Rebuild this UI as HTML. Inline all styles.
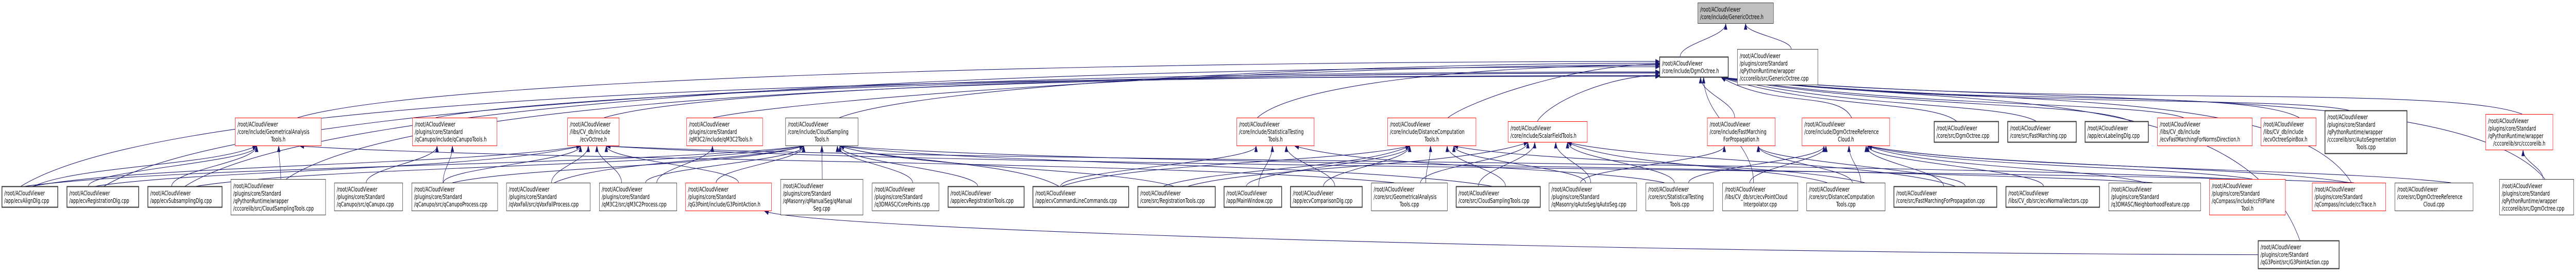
<!DOCTYPE html>
<html><head><meta charset="utf-8">
<style>
html,body{margin:0;padding:0;background:#fff;width:100%;height:100%;overflow:hidden;}
#sv{position:absolute;left:0;top:0;width:100vw;height:100vh;display:block;}
text{font-family:"DejaVu Sans","Liberation Sans",sans-serif;font-size:12px;fill:#000;}
</style></head><body>
<svg id="sv" viewBox="0 0 7291 527" preserveAspectRatio="none" xmlns="http://www.w3.org/2000/svg"><g id="ed"></g><g id="nd"></g></svg>
<script>
var N={
A:[4805,5,5020,46,'g',["/root/ACloudViewer","/core/include/GenericOctree.h"]],
B:[4697,110,4892,150,'t',["/root/ACloudViewer","/core/include/DgmOctree.h"]],
C:[4917,95,5146,165,'',["/root/ACloudViewer","/plugins/core/Standard","/qPythonRuntime/wrapper","/cccorelib/src/GenericOctree.cpp"]],
GAh:[665,228,910,283,'r',["/root/ACloudViewer","/core/include/GeometricalAnalysis","~Tools.h"]],
QCt:[1167,228,1407,283,'r',["/root/ACloudViewer","/plugins/core/Standard","/qCanupo/include/qCanupoTools.h"]],
EOh:[1606,228,1753,283,'r',["/root/ACloudViewer","/libs/CV_db/include","~/ecvOctree.h"]],
M3t:[1943,228,2159,283,'r',["/root/ACloudViewer","/plugins/core/Standard","/qM3C2/include/qM3C2Tools.h"]],
CSh:[2223,228,2429,283,'',["/root/ACloudViewer","/core/include/CloudSampling","~Tools.h"]],
STh:[3500,228,3720,283,'r',["/root/ACloudViewer","/core/include/StatisticalTesting","~Tools.h"]],
DCh:[3927,228,4178,283,'r',["/root/ACloudViewer","/core/include/DistanceComputation","~Tools.h"]],
SFh:[4268,235,4493,276,'r',["/root/ACloudViewer","/core/include/ScalarFieldTools.h"]],
FMh:[4832,228,5025,283,'r',["/root/ACloudViewer","/core/include/FastMarching","~ForPropagation.h"]],
DRh:[5100,228,5349,283,'r',["/root/ACloudViewer","/core/include/DgmOctreeReference","~Cloud.h"]],
DOc:[5474,235,5657,276,'t',["/root/ACloudViewer","/core/src/DgmOctree.cpp"]],
FMc:[5682,235,5877,276,'t',["/root/ACloudViewer","/core/src/FastMarching.cpp"]],
LDc:[5901,235,6081,276,'t',["/root/ACloudViewer","/app/ecvLabelingDlg.cpp"]],
FNh:[6106,228,6375,283,'r',["/root/ACloudViewer","/libs/CV_db/include","/ecvFastMarchingForNormsDirection.h"]],
OSh:[6399,228,6556,283,'r',["/root/ACloudViewer","/libs/CV_db/include","/ecvOctreeSpinBox.h"]],
ASc:[6580,214,6813,298,'t',["/root/ACloudViewer","/plugins/core/Standard","/qPythonRuntime/wrapper","/cccorelib/src/AutoSegmentation","~Tools.cpp"]],
CCh:[7035,221,7226,291,'r',["/root/ACloudViewer","/plugins/core/Standard","/qPythonRuntime/wrapper","~/cccorelib/src/cccorelib.h"]],
AL:[5,361,164,402,'t',["/root/ACloudViewer","/app/ecvAlignDlg.cpp"]],
RD:[189,361,393,402,'t',["/root/ACloudViewer","/app/ecvRegistrationDlg.cpp"]],
SD:[418,361,629,402,'t',["/root/ACloudViewer","/app/ecvSubsamplingDlg.cpp"]],
CSw:[653,347,922,417,'',["/root/ACloudViewer","/plugins/core/Standard","/qPythonRuntime/wrapper","/cccorelib/src/CloudSamplingTools.cpp"]],
QC:[946,354,1140,409,'',["/root/ACloudViewer","/plugins/core/Standard","/qCanupo/src/qCanupo.cpp"]],
QCP:[1165,354,1409,409,'',["/root/ACloudViewer","/plugins/core/Standard","/qCanupo/src/qCanupoProcess.cpp"]],
VF:[1433,354,1671,409,'',["/root/ACloudViewer","/plugins/core/Standard","/qVoxFall/src/qVoxFallProcess.cpp"]],
M3P:[1696,354,1916,409,'',["/root/ACloudViewer","/plugins/core/Standard","/qM3C2/src/qM3C2Process.cpp"]],
G3h:[1940,354,2184,409,'r',["/root/ACloudViewer","/plugins/core/Standard","/qG3Point/include/G3PointAction.h"]],
MS:[2209,347,2443,417,'',["/root/ACloudViewer","/plugins/core/Standard","/qMasonry/qManualSeg/qManual","~Seg.cpp"]],
CP:[2468,354,2658,409,'',["/root/ACloudViewer","/plugins/core/Standard","/q3DMASC/CorePoints.cpp"]],
RT:[2683,361,2899,402,'t',["/root/ACloudViewer","/app/ecvRegistrationTools.cpp"]],
CL:[2923,361,3195,402,'t',["/root/ACloudViewer","/app/ecvCommandLineCommands.cpp"]],
RTc:[3220,361,3440,402,'t',["/root/ACloudViewer","/core/src/RegistrationTools.cpp"]],
MW:[3464,361,3628,402,'t',["/root/ACloudViewer","/app/MainWindow.cpp"]],
CD:[3652,361,3856,402,'t',["/root/ACloudViewer","/app/ecvComparisonDlg.cpp"]],
GAc:[3881,354,4097,409,'',["/root/ACloudViewer","/core/src/GeometricalAnalysis","~Tools.cpp"]],
CSc:[4121,361,4360,402,'t',["/root/ACloudViewer","/core/src/CloudSamplingTools.cpp"]],
AS:[4384,354,4633,409,'',["/root/ACloudViewer","/plugins/core/Standard","/qMasonry/qAutoSeg/qAutoSeg.cpp"]],
STc:[4658,354,4850,409,'',["/root/ACloudViewer","/core/src/StatisticalTesting","~Tools.cpp"]],
PI:[4875,354,5089,409,'',["/root/ACloudViewer","/libs/CV_db/src/ecvPointCloud","~Interpolator.cpp"]],
DCc:[5113,354,5336,409,'',["/root/ACloudViewer","/core/src/DistanceComputation","~Tools.cpp"]],
FPc:[5360,361,5652,402,'t',["/root/ACloudViewer","/core/src/FastMarchingForPropagation.cpp"]],
NV:[5677,361,5943,402,'t',["/root/ACloudViewer","/libs/CV_db/src/ecvNormalVectors.cpp"]],
NF:[5968,354,6229,409,'',["/root/ACloudViewer","/plugins/core/Standard","/q3DMASC/NeighborhoodFeature.cpp"]],
FP:[6253,347,6469,417,'r',["/root/ACloudViewer","/plugins/core/Standard","/qCompass/include/ccFitPlane","~Tool.h"]],
TR:[6544,354,6753,409,'r',["/root/ACloudViewer","/plugins/core/Standard","/qCompass/include/ccTrace.h"]],
DRc:[6778,354,7000,409,'',["/root/ACloudViewer","/core/src/DgmOctreeReference","~Cloud.cpp"]],
DOw:[7074,347,7285,417,'',["/root/ACloudViewer","/plugins/core/Standard","/qPythonRuntime/wrapper","/cccorelib/src/DgmOctree.cpp"]],
G3c:[6391,466,6621,521,'t',["/root/ACloudViewer","/plugins/core/Standard","/qG3Point/src/G3PointAction.cpp"]]
};
var h='';
for(var k in N){var n=N[k];var w=n[2]-n[0],ht=n[3]-n[1];
var fill=n[4]=='g'?'#bfbfbf':'#fff',st=n[4]=='r'?'#ff0000':(n[4]=='g'?'#404040':'#333'),sw=n[4]=='t'?2:1;
h+='<rect x="'+(n[0]+0.5)+'" y="'+(n[1]+0.5)+'" width="'+(w-1)+'" height="'+(ht-1)+'" fill="'+fill+'" stroke="'+st+'" stroke-width="'+sw+'"/>';
var L=n[5].length,top0=n[1]+(ht-L*14.5)/2+11.5;
n[5].forEach(function(l,i){var y=top0+i*14.5;
if(l[0]=='~')h+='<text x="'+(n[0]+w/2)+'" y="'+y+'" text-anchor="middle">'+l.slice(1)+'</text>';
else h+='<text x="'+(n[0]+7)+'" y="'+y+'">'+l+'</text>';});
}
document.getElementById('nd').innerHTML=h;

var E=[
['B','A'],['C','A'],
['GAh','B'],['QCt','B'],['EOh','B'],['M3t','B'],['CSh','B'],['STh','B'],['DCh','B'],['SFh','B'],['FMh','B'],['DRh','B'],
['DOc','B'],['FMc','B'],['LDc','B'],['FNh','B'],['OSh','B'],['ASc','B'],['CCh','B'],
['AL','B'],['RD','B'],['SD','B'],['PI','B'],['DOw','B'],['G3c','B'],['TR','B'],['CSw','B'],
['AL','GAh'],['RD','GAh'],['SD','GAh'],['CSw','GAh'],['GAc','GAh'],
['QC','QCt'],['QCP','QCt'],
['QCP','EOh'],['VF','EOh'],['M3P','EOh'],['G3h','EOh'],['AL','EOh'],['RD','EOh'],['FP','EOh'],['TR','EOh'],
['M3P','M3t'],
['MS','CSh'],['CP','CSh'],['M3P','CSh'],['G3h','CSh'],['AL','CSh'],['SD','CSh'],['RT','CSh'],['CSc','CSh'],['VF','CSh'],['QCP','CSh'],['CL','CSh'],['RTc','CSh'],['NF','CSh'],
['CL','STh'],['MW','STh'],['STc','STh'],['CD','STh'],
['GAc','DCh'],['CSc','DCh'],['AS','DCh'],['RTc','DCh'],['DCc','DCh'],['CD','DCh'],['CL','DCh'],['MW','DCh'],
['GAc','SFh'],['CSc','SFh'],['AS','SFh'],['RTc','SFh'],['STc','SFh'],['FPc','SFh'],['DCc','SFh'],
['DCc','FMh'],['FPc','FMh'],['AS','FMh'],
['DCc','DRh'],['FPc','DRh'],['NV','DRh'],['NF','DRh'],['FP','DRh'],['TR','DRh'],['DRc','DRh'],['PI','DRh'],['STc','DRh'],
['DOw','CCh'],['G3c','G3h']
];
var seed=12345;function rnd(){seed=(seed*16807)%2147483647;return seed/2147483647;}
var s='',C='#191970';
function cx(n){return (n[0]+n[2])/2;}
function arrow(x,y,px,py){var dx=x-px,dy=y-py,L=Math.sqrt(dx*dx+dy*dy)||1;dx/=L;dy/=L;var bx=x-dx*11,by=y-dy*11,ox=-dy*4,oy=dx*4;
return '<polygon points="'+x+','+y+' '+(bx+ox)+','+(by+oy)+' '+(bx-ox)+','+(by-oy)+'" fill="'+C+'" stroke="'+C+'"/>';}
E.forEach(function(e){var a=N[e[0]],b=N[e[1]];
var sx=cx(a)+(rnd()-0.5)*(a[2]-a[0])*0.5,sy=a[1];
var tx,ty,c1x,c1y,c2x,c2y;
if(e[1]=='B'&&Math.abs(sx-cx(b))>400){
 if(sx<b[0]){tx=b[0];ty=118+rnd()*30;}else{tx=b[2]-20;ty=b[3];}
 var my=150+rnd()*50;
 c1x=sx+(tx-sx)*0.1;c1y=my;c2x=tx-(tx-sx)*0.4;c2y=sx<b[0]?ty:ty+60;
}else if(e[0]=='G3c'&&e[1]=='G3h'){
 sx=a[0];sy=(a[1]+a[3])/2;tx=b[2]-20;ty=b[3];c1x=4500;c1y=490;c2x=2300;c2y=445;
}else if(e[0]=='G3c'){
 sx=cx(a);sy=a[1];tx=b[2]-30;ty=b[3];c1x=sx;c1y=300;c2x=tx+400;c2y=ty+150;
}else{
 tx=cx(b)+(sx-cx(b))*0.25*(b[2]-b[0])/Math.max(300,Math.abs(sx-cx(b))+1);
 tx=Math.max(b[0]+8,Math.min(b[2]-8,tx));ty=b[3];
 if(Math.abs(sx-tx)>600){var my2=(sy+ty)/2+(rnd()-0.5)*20;c1x=sx+(tx-sx)*0.2;c1y=my2;c2x=tx-(tx-sx)*0.2;c2y=my2;}
 else{c1x=sx;c1y=sy-(sy-ty)*0.4;c2x=tx;c2y=ty+(sy-ty)*0.4;}
}
s+='<path d="M'+sx+','+sy+' C'+c1x+','+c1y+' '+c2x+','+c2y+' '+tx+','+ty+'" fill="none" stroke="'+C+'" stroke-width="1.1"/>';
s+=arrow(tx,ty,c2x,c2y);
});
document.getElementById('ed').innerHTML=s;
</script>
</body></html>
